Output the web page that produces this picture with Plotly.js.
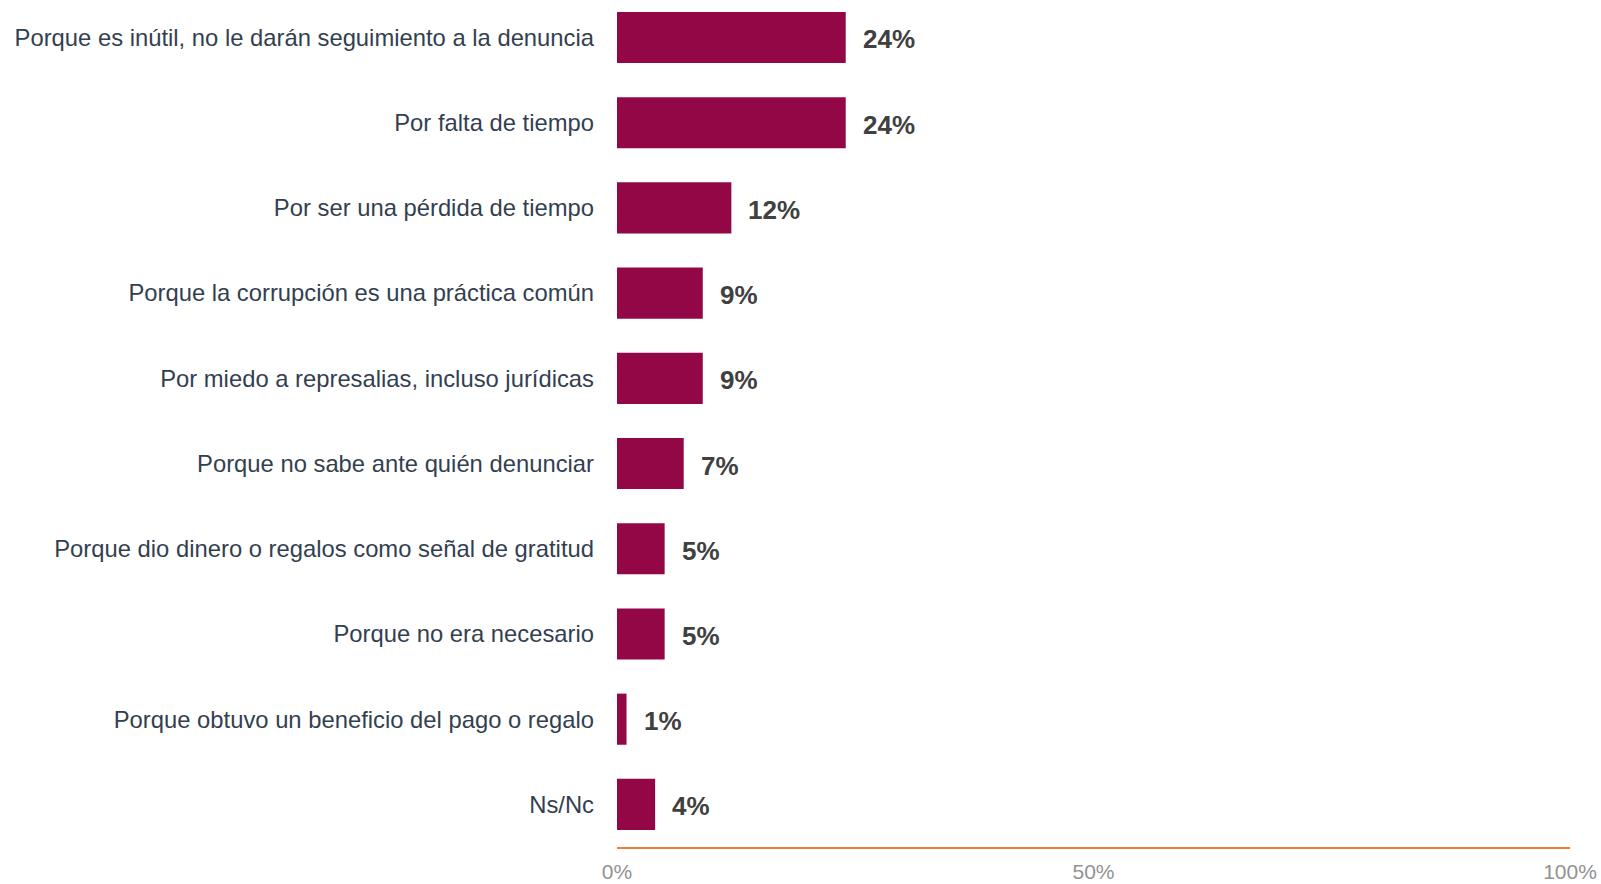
<!DOCTYPE html>
<html>
<head>
<meta charset="utf-8">
<script src="https://cdn.plot.ly/plotly-3.0.1.min.js"></script>
<style>
  html, body { margin: 0; padding: 0; background: #ffffff; }
  #chart { width: 1601px; height: 884px; }
</style>
</head>
<body>
<div id="chart"></div>
<script>
const categories = [
  "Porque es inútil, no le darán seguimiento a la denuncia",
  "Por falta de tiempo",
  "Por ser una pérdida de tiempo",
  "Porque la corrupción es una práctica común",
  "Por miedo a represalias, incluso jurídicas",
  "Porque no sabe ante quién denunciar",
  "Porque dio dinero o regalos como señal de gratitud",
  "Porque no era necesario",
  "Porque obtuvo un beneficio del pago o regalo",
  "Ns/Nc"
];
const values = [24, 24, 12, 9, 9, 7, 5, 5, 1, 4];
const tickValues = [0, 50, 100];
const tickLabels = ["0%", "50%", "100%"];

const trace = {
  type: "bar",
  orientation: "h",
  x: values,
  y: categories,
  marker: { color: "#930746" },
  hoverinfo: "skip"
};

const annotations = values.map((v, i) => ({
  x: v,
  y: categories[i],
  xref: "x",
  yref: "y",
  text: "<b>" + v + "%</b>",
  showarrow: false,
  xanchor: "left",
  yanchor: "middle",
  xshift: 15,
  yshift: -2,
  font: { family: "Arial, 'Liberation Sans', sans-serif", size: 26, color: "#404040" }
}));

const layout = {
  width: 1601,
  height: 884,
  margin: { l: 617, r: 31, t: 0, b: 37, pad: 0 },
  paper_bgcolor: "#ffffff",
  plot_bgcolor: "#ffffff",
  bargap: 0.4,
  showlegend: false,
  xaxis: {
    range: [0, 100],
    tickvals: tickValues,
    ticktext: tickLabels,
    showgrid: false,
    zeroline: false,
    showline: true,
    linecolor: "#ED7D31",
    linewidth: 2,
    ticks: "",
    ticklabelstandoff: 5,
    tickfont: { family: "Arial, 'Liberation Sans', sans-serif", size: 21, color: "#929292" },
    fixedrange: true
  },
  yaxis: {
    type: "category",
    categoryorder: "array",
    categoryarray: categories,
    range: [9.5, -0.44],
    showgrid: false,
    zeroline: false,
    showline: false,
    ticks: "",
    ticklabelstandoff: 22,
    tickfont: { family: "Arial, 'Liberation Sans', sans-serif", size: 23.8, color: "#333f50" },
    fixedrange: true
  },
  annotations: annotations
};

Plotly.newPlot("chart", [trace], layout, { displayModeBar: false, staticPlot: true });
</script>
</body>
</html>
